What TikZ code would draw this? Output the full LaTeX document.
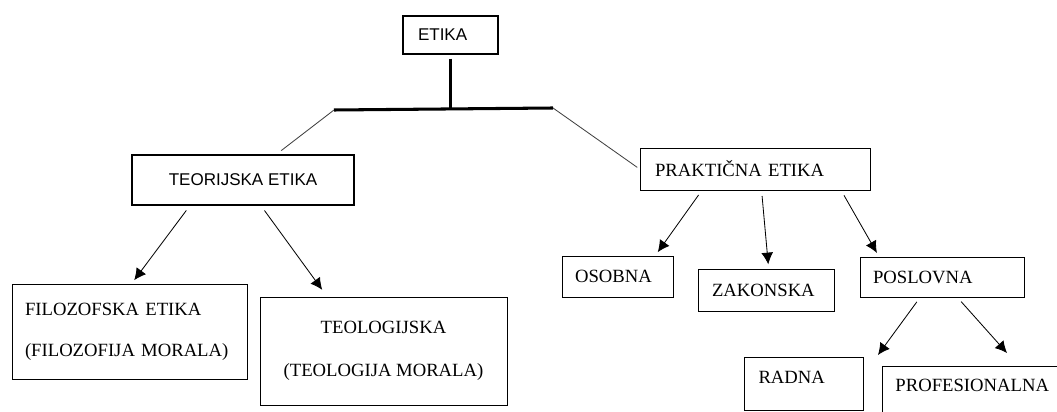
\documentclass[tikz,border=0pt]{standalone}
\usepackage{fontspec}
\setmainfont{Liberation Serif}
\setsansfont{Liberation Sans}
\usepackage{tikz}
\usetikzlibrary{arrows.meta}

\begin{document}
\begin{tikzpicture}[x=0.0254cm, y=-0.0254cm,
  serifbox/.style={rectangle, draw, line width=0.7pt, inner ysep=0pt, align=left, font=\fontsize{13.5}{16}\selectfont},
  sansbox/.style={rectangle, draw, line width=0.8pt, inner ysep=0pt, font=\sffamily\fontsize{12.3}{15}\selectfont},
  trunk/.style={line width=2.2pt},
  branch/.style={line width=0.6pt, black!75},
  arrowline/.style={->, line width=0.6pt, black, shorten <=4pt, shorten >=3pt},
  >={Latex[length=8.5pt, width=8.5pt]}]
\useasboundingbox (0,0) rectangle (1057,412);
\clip (0,0) rectangle (1057,412);

\node[sansbox, minimum height=0.965cm, text width=1.651cm, inner xsep=0.381cm, align=left] at (450.5, 35) (0) {ETIKA};
\node[sansbox, line width=1.5pt, minimum width=5.639cm, minimum height=1.27cm] at (243, 180) (1) {TEORIJSKA ETIKA};
\node[serifbox, minimum height=1.067cm, text width=5.08cm, inner xsep=0.381cm] at (755, 169) (2) {PRAKTIČNA ETIKA};
\node[serifbox, minimum height=2.438cm, text width=5.334cm, inner xsep=0.33cm, font=\fontsize{13.5}{30}\selectfont] at (130, 332) (3) {FILOZOFSKA ETIKA\\(FILOZOFIJA MORALA)};
\node[serifbox, align=center, minimum width=6.274cm, minimum height=2.743cm, font=\fontsize{13.5}{31}\selectfont] at (383.5, 351) (4) {TEOLOGIJSKA\\(TEOLOGIJA MORALA)};
\node[serifbox, minimum height=1.041cm, text width=2.159cm, inner xsep=0.33cm] at (617.5, 276.5) (5) {OSOBNA};
\node[serifbox, minimum height=1.067cm, text width=2.743cm, inner xsep=0.356cm] at (766, 290) (6) {ZAKONSKA};
\node[serifbox, minimum height=1.016cm, text width=3.505cm, inner xsep=0.33cm] at (942, 277) (7) {POSLOVNA};
\node[serifbox, anchor=north west, text width=2.311cm, inner xsep=0.356cm, text height=0.66cm, text depth=0.686cm] at (744, 357) (8) {RADNA};
\node[serifbox, anchor=north west, text width=4.242cm, inner xsep=0.33cm, text height=0.635cm, text depth=0.889cm] at (882, 366) (9) {PROFESIONALNA};

% spoj ispod ETIKA
\coordinate (l) at (334, 110);
\coordinate (r) at (553, 108);
\draw[trunk, shorten <=3pt] (0) -- (0 |- l);
\draw[trunk] (l) -- (r);
\draw[branch, shorten >=4pt] (l) -- (1);
\draw[branch, shorten >=2pt] (r) -- (2.west);

\draw[arrowline] (1.206) -- (3.88);
\draw[arrowline, shorten >=6pt] (1.305) -- (4.136);
\draw[arrowline] (2.202) -- (5.29);
\draw[arrowline] (2.287) -- (6.83);
\draw[arrowline] (2.346) -- (7.162);
\draw[arrowline, shorten >=0pt] (7.223) -- ([shift={(14,-2)}]8.north east);
\draw[arrowline, shorten >=0pt] (7.307) -- ([shift={(125,-13)}]9.north west);

\end{tikzpicture}
\end{document}
